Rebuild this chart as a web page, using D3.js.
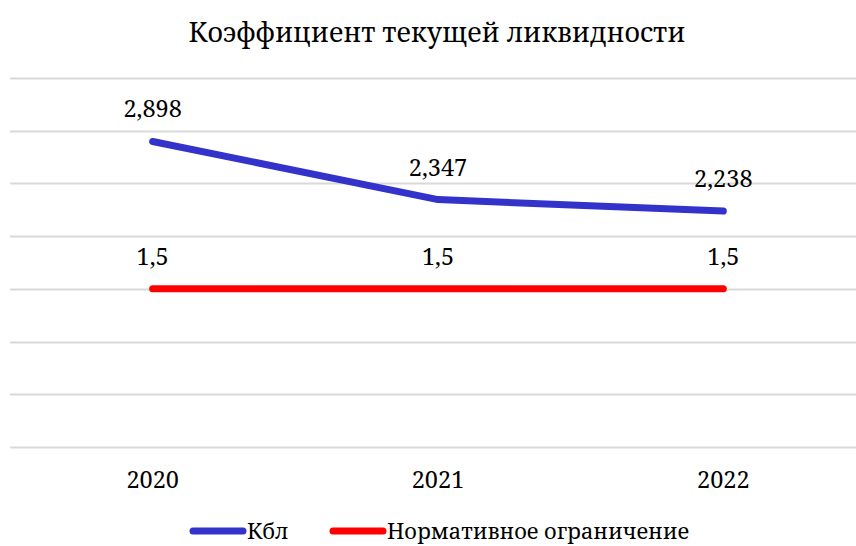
<!DOCTYPE html>
<html>
<head>
    <meta charset="utf-8">
    <title>Коэффициент текущей ликвидности</title>
    <script src="https://d3js.org/d3.v7.min.js"></script>
    <style>
        body { margin: 0; background: #fff; }
        svg text { font-family: "Noto Serif", "DejaVu Serif", serif; }
    </style>
</head>
<body>
<svg width="856" height="546"></svg>
<script>
    // data
    var years = ["2020", "2021", "2022"];
    var kbl = [2.898, 2.347, 2.238];
    var norm = [1.5, 1.5, 1.5];
    var seriesNames = ["Кбл", "Нормативное ограничение"];
    var gridValues = [0, 0.5, 1, 1.5, 2, 2.5, 3, 3.5];

    var svg = d3.select("svg"),
        width = +svg.attr("width"),
        height = +svg.attr("height");

    svg.attr("fill", "#000");

    var x = d3.scaleBand().domain(years).range([10, 866]);
    var y = d3.scaleLinear().domain([0, 3.5]).range([447, 78]);
    var fmt = function (v) { return String(v).replace(".", ","); };

    svg.append("text")
        .attr("x", 437).attr("y", 42)
        .attr("text-anchor", "middle")
        .attr("font-size", 26.8)
        .text("Коэффициент текущей ликвидности");

    svg.append("g").selectAll("line").data(gridValues).enter().append("line")
        .attr("x1", 10).attr("x2", width)
        .attr("y1", function (d) { return Math.round(y(d)) + 0.5; })
        .attr("y2", function (d) { return Math.round(y(d)) + 0.5; })
        .attr("stroke", "#d9d9d9").attr("stroke-width", 2);

    svg.append("g").selectAll("text").data(years).enter().append("text")
        .attr("x", function (d) { return x(d) + x.bandwidth() / 2; })
        .attr("y", 488)
        .attr("text-anchor", "middle")
        .attr("font-size", 23.5)
        .text(function (d) { return d; });

    var line = d3.line()
        .x(function (d, i) { return x(years[i]) + x.bandwidth() / 2; })
        .y(function (d) { return y(d); });

    var series = [
        { name: seriesNames[0], values: kbl, color: "#3333cc" },
        { name: seriesNames[1], values: norm, color: "#ff0000" }
    ];

    series.forEach(function (s) {
        svg.append("path")
            .datum(s.values)
            .attr("d", line)
            .attr("fill", "none")
            .attr("stroke", s.color)
            .attr("stroke-width", 7)
            .attr("stroke-linecap", "round")
            .attr("stroke-linejoin", "round");

        svg.append("g").selectAll("text").data(s.values).enter().append("text")
            .attr("x", function (d, i) { return x(years[i]) + x.bandwidth() / 2; })
            .attr("y", function (d) { return y(d) - 24; })
            .attr("text-anchor", "middle")
            .attr("font-size", 23.5)
            .text(fmt);
    });

    // legend
    var legendPos = [190, 330];
    series.forEach(function (s, i) {
        var lx = legendPos[i];
        svg.append("line")
            .attr("x1", lx + 3).attr("x2", lx + 53)
            .attr("y1", 531).attr("y2", 531)
            .attr("stroke", s.color).attr("stroke-width", 7)
            .attr("stroke-linecap", "round");
        svg.append("text")
            .attr("x", lx + 57).attr("y", 539)
            .attr("font-size", 21.8)
            .text(s.name);
    });
</script>
</body>
</html>
